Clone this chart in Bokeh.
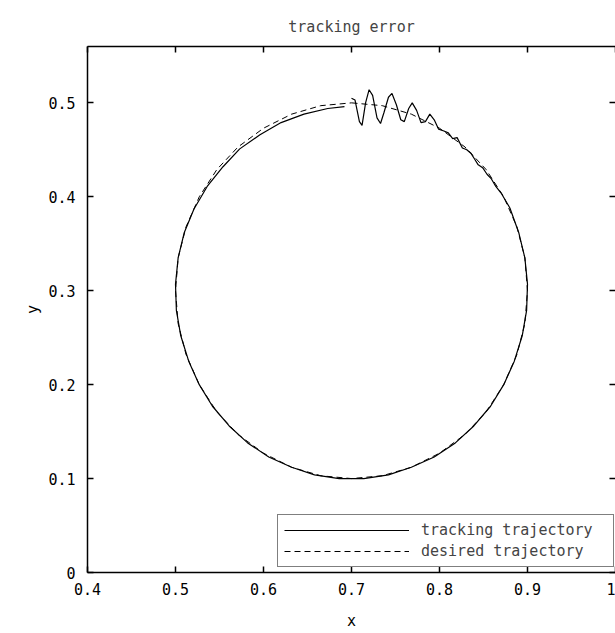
from bokeh.plotting import figure
from bokeh.models import Legend, LegendItem, LinearAxis, FixedTicker, Range1d
from bokeh.embed import file_html
from bokeh.resources import INLINE

# ---- data ----
track_x = [0.700, 0.704, 0.709, 0.712, 0.716, 0.720, 0.724, 0.729, 0.733, 0.737,
           0.742, 0.746, 0.751, 0.756, 0.760, 0.765, 0.769, 0.774, 0.779, 0.784,
           0.789, 0.794, 0.799, 0.805, 0.810, 0.815, 0.820, 0.826, 0.831, 0.836,
           0.840, 0.844, 0.849, 0.854, 0.859, 0.864, 0.870,
           0.880, 0.890, 0.897, 0.900, 0.899, 0.894, 0.885, 0.873, 0.858, 0.839,
           0.818, 0.794, 0.768, 0.742, 0.714, 0.686, 0.658, 0.632, 0.606, 0.582,
           0.561, 0.542, 0.527, 0.515, 0.506, 0.501, 0.500, 0.503, 0.510, 0.521,
           0.536, 0.554, 0.573, 0.596, 0.620, 0.646, 0.673, 0.692]
track_y = [0.505, 0.503, 0.480, 0.476, 0.500, 0.514, 0.508, 0.484, 0.478, 0.490,
           0.506, 0.510, 0.498, 0.482, 0.480, 0.494, 0.500, 0.492, 0.479, 0.480,
           0.488, 0.482, 0.472, 0.470, 0.468, 0.462, 0.463, 0.452, 0.450, 0.446,
           0.440, 0.434, 0.431, 0.424, 0.419, 0.411, 0.404,
           0.388, 0.362, 0.335, 0.307, 0.279, 0.252, 0.225, 0.200, 0.177, 0.156,
           0.138, 0.123, 0.112, 0.104, 0.100, 0.100, 0.104, 0.112, 0.123, 0.138,
           0.156, 0.177, 0.200, 0.225, 0.252, 0.279, 0.307, 0.335, 0.362, 0.387,
           0.411, 0.432, 0.451, 0.466, 0.479, 0.488, 0.494, 0.496]

# desired trajectory: circle about (0.7, 0.3), radius 0.2, read every 10 degrees
desired_x = [0.700, 0.735, 0.768, 0.800, 0.829, 0.853, 0.873, 0.888, 0.897, 0.900,
             0.897, 0.888, 0.873, 0.853, 0.829, 0.800, 0.768, 0.735, 0.700, 0.665,
             0.632, 0.600, 0.571, 0.547, 0.527, 0.512, 0.503, 0.500, 0.503, 0.512,
             0.527, 0.547, 0.571, 0.600, 0.632, 0.665, 0.700]
desired_y = [0.500, 0.497, 0.488, 0.473, 0.453, 0.429, 0.400, 0.368, 0.335, 0.300,
             0.265, 0.232, 0.200, 0.171, 0.147, 0.127, 0.112, 0.103, 0.100, 0.103,
             0.112, 0.127, 0.147, 0.171, 0.200, 0.232, 0.265, 0.300, 0.335, 0.368,
             0.400, 0.429, 0.453, 0.473, 0.488, 0.497, 0.500]

x_ticks = [0.4, 0.5, 0.6, 0.7, 0.8, 0.9, 1.0]
x_tick_labels = ["0.4", "0.5", "0.6", "0.7", "0.8", "0.9", "1"]
y_ticks = [0.0, 0.1, 0.2, 0.3, 0.4, 0.5]
y_tick_labels = ["0", "0.1", "0.2", "0.3", "0.4", "0.5"]

FONT = "DejaVu Sans Mono"
FS = "15px"

p = figure(width=615, height=633, output_backend="svg", toolbar_location=None,
           x_range=Range1d(0.4, 1.0), y_range=Range1d(0.0, 0.56),
           min_border_left=87, min_border_right=0, min_border_top=46,
           min_border_bottom=61, background_fill_color="white",
           border_fill_color="white")
p.grid.visible = False
p.outline_line_color = None

p.title.text = "tracking error"
p.title.align = "center"
p.title.text_font = FONT
p.title.text_font_style = "normal"
p.title.text_font_size = FS
p.title.standoff = 22

def style_axis(ax, ticks, labels, show_labels, show_line=True):
    ax.ticker = FixedTicker(ticks=ticks)
    ax.axis_line_color = "black" if show_line else None
    ax.axis_line_width = 1.5
    ax.major_tick_in = 6
    ax.major_tick_out = 0
    ax.major_tick_line_color = "black"
    ax.major_tick_line_width = 1.5
    ax.minor_tick_line_color = None
    ax.major_label_text_font = FONT
    ax.major_label_text_color = "black"
    if show_labels:
        ax.major_label_overrides = {t: l for t, l in zip(ticks, labels)}
        ax.major_label_text_font_size = FS
    else:
        ax.major_label_overrides = {t: "" for t in ticks}
        ax.major_label_text_font_size = "0px"
        ax.major_label_standoff = 0
        ax.axis_label_standoff = 0

style_axis(p.xaxis[0], x_ticks, x_tick_labels, True)
style_axis(p.yaxis[0], y_ticks, y_tick_labels, True)
p.xaxis[0].major_label_standoff = 10
p.yaxis[0].major_label_standoff = 12
p.xaxis[0].axis_label = "x"
p.yaxis[0].axis_label = "y"
for ax in (p.xaxis[0], p.yaxis[0]):
    ax.axis_label_text_font = FONT
    ax.axis_label_text_font_size = FS
    ax.axis_label_text_font_style = "normal"
    ax.axis_label_text_color = "black"
p.xaxis[0].axis_label_standoff = 14
p.yaxis[0].axis_label_standoff = 3

top_ax = LinearAxis()
style_axis(top_ax, x_ticks, x_tick_labels, False)
p.add_layout(top_ax, "above")
right_ax = LinearAxis()
style_axis(right_ax, y_ticks, y_tick_labels, False, show_line=False)
p.add_layout(right_ax, "right")

r_track = p.line(track_x, track_y, line_color="black", line_width=1.2)
r_des = p.line(desired_x, desired_y, line_color="black", line_width=1,
               line_dash="6 4")

legend = Legend(items=[LegendItem(label="tracking trajectory", renderers=[r_track]),
                       LegendItem(label="desired trajectory", renderers=[r_des])],
                location=(190, 5), glyph_width=125, glyph_height=18,
                label_height=18, label_width=186, label_standoff=12,
                padding=6, spacing=3, margin=0,
                label_text_font=FONT, label_text_font_size=FS,
                border_line_color="black", border_line_width=1,
                background_fill_color="white", background_fill_alpha=1.0)
p.add_layout(legend, "center")

open("out.html", "w").write(file_html(p, INLINE))
